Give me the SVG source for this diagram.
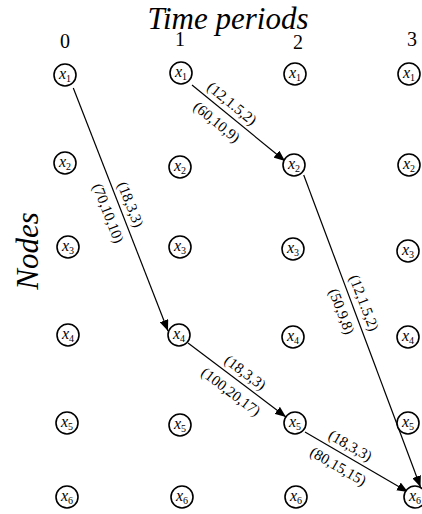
<svg xmlns="http://www.w3.org/2000/svg" width="422" height="514" viewBox="0 0 422 514">
<style>
.t{font-family:"Liberation Serif","Times New Roman",serif;fill:#000}
.h{font-size:31px;font-style:italic}
.c{font-size:20px}
.nl{font-size:16px;font-style:italic;text-anchor:middle}
.sub{font-size:10px;font-style:normal}
.lb{font-size:15px;text-anchor:middle}
circle{fill:#fff;stroke:#000;stroke-width:1.6}
.e{stroke:#000;stroke-width:1.2;fill:none;marker-end:url(#ah)}
</style>
<defs>
<marker id="ah" markerUnits="userSpaceOnUse" markerWidth="11" markerHeight="9" refX="11" refY="4.5" orient="auto" viewBox="0 0 11 9">
<path d="M0,0 L11,4.5 L0,9 z" fill="#000"/>
</marker>
</defs>
<rect width="422" height="514" fill="#fff"/>
<text class="t h" x="228" y="29" text-anchor="middle">Time periods</text>
<text class="t c" x="65" y="48" text-anchor="middle">0</text>
<text class="t c" x="180" y="46" text-anchor="middle">1</text>
<text class="t c" x="298" y="49" text-anchor="middle">2</text>
<text class="t c" x="412" y="46" text-anchor="middle">3</text>
<text class="t h" transform="translate(38,251) rotate(-90)" text-anchor="middle">Nodes</text>
<g id="connectors">
<line class="e" x1="73.3" y1="88" x2="168" y2="331"/>
<line class="e" x1="192" y1="85" x2="285" y2="161"/>
<line class="e" x1="303.7" y1="175" x2="420.5" y2="487"/>
<line class="e" x1="188" y1="343" x2="286" y2="417"/>
<line class="e" x1="305" y1="432" x2="408" y2="492"/>
<text class="t lb" transform="translate(120.3,208.5) rotate(68.7)" y="-6">(18,3,3)</text>
<text class="t lb" transform="translate(120.3,208.5) rotate(68.7)" y="18">(70,10,10)</text>
<text class="t lb" transform="translate(225,112) rotate(39.2)" y="-6">(12,1.5,2)</text>
<text class="t lb" transform="translate(225,112) rotate(39.2)" y="18">(60,10,9)</text>
<text class="t lb" transform="translate(353.8,306.8) rotate(69.2)" y="-6">(12,1.5,2)</text>
<text class="t lb" transform="translate(353.8,306.8) rotate(69.2)" y="18">(50,9,8)</text>
<text class="t lb" transform="translate(238.7,381.3) rotate(37)" y="-6">(18,3,3)</text>
<text class="t lb" transform="translate(238.7,381.3) rotate(37)" y="18">(100,20,17)</text>
<text class="t lb" transform="translate(344.7,455.1) rotate(30.2)" y="-6">(18,3,3)</text>
<text class="t lb" transform="translate(344.7,455.1) rotate(30.2)" y="18">(80,15,15)</text>
</g>
<g id="n0_1"><circle cx="65" cy="75" r="11"/><text class="t nl" x="65" y="79">x<tspan class="sub" dy="3">1</tspan></text></g>
<g id="n0_2"><circle cx="65" cy="163" r="11"/><text class="t nl" x="65" y="167">x<tspan class="sub" dy="3">2</tspan></text></g>
<g id="n0_3"><circle cx="68" cy="247" r="11"/><text class="t nl" x="68" y="251">x<tspan class="sub" dy="3">3</tspan></text></g>
<g id="n0_4"><circle cx="68" cy="335" r="11"/><text class="t nl" x="68" y="339">x<tspan class="sub" dy="3">4</tspan></text></g>
<g id="n0_5"><circle cx="67" cy="423" r="11"/><text class="t nl" x="67" y="427">x<tspan class="sub" dy="3">5</tspan></text></g>
<g id="n0_6"><circle cx="67" cy="497" r="11"/><text class="t nl" x="67" y="501">x<tspan class="sub" dy="3">6</tspan></text></g>
<g id="n1_1"><circle cx="181" cy="73" r="11"/><text class="t nl" x="181" y="77">x<tspan class="sub" dy="3">1</tspan></text></g>
<g id="n1_2"><circle cx="180" cy="167" r="11"/><text class="t nl" x="180" y="171">x<tspan class="sub" dy="3">2</tspan></text></g>
<g id="n1_3"><circle cx="180" cy="247" r="11"/><text class="t nl" x="180" y="251">x<tspan class="sub" dy="3">3</tspan></text></g>
<g id="n1_4"><circle cx="179" cy="335" r="11"/><text class="t nl" x="179" y="339">x<tspan class="sub" dy="3">4</tspan></text></g>
<g id="n1_5"><circle cx="180" cy="425" r="11"/><text class="t nl" x="180" y="429">x<tspan class="sub" dy="3">5</tspan></text></g>
<g id="n1_6"><circle cx="182" cy="497" r="11"/><text class="t nl" x="182" y="501">x<tspan class="sub" dy="3">6</tspan></text></g>
<g id="n2_1"><circle cx="295" cy="74" r="11"/><text class="t nl" x="295" y="78">x<tspan class="sub" dy="3">1</tspan></text></g>
<g id="n2_2"><circle cx="294" cy="165" r="11"/><text class="t nl" x="294" y="169">x<tspan class="sub" dy="3">2</tspan></text></g>
<g id="n2_3"><circle cx="293" cy="249" r="11"/><text class="t nl" x="293" y="253">x<tspan class="sub" dy="3">3</tspan></text></g>
<g id="n2_4"><circle cx="293" cy="337" r="11"/><text class="t nl" x="293" y="341">x<tspan class="sub" dy="3">4</tspan></text></g>
<g id="n2_5"><circle cx="295" cy="423" r="11"/><text class="t nl" x="295" y="427">x<tspan class="sub" dy="3">5</tspan></text></g>
<g id="n2_6"><circle cx="296" cy="497" r="11"/><text class="t nl" x="296" y="501">x<tspan class="sub" dy="3">6</tspan></text></g>
<g id="n3_1"><circle cx="409" cy="74" r="11"/><text class="t nl" x="409" y="78">x<tspan class="sub" dy="3">1</tspan></text></g>
<g id="n3_2"><circle cx="409" cy="165" r="11"/><text class="t nl" x="409" y="169">x<tspan class="sub" dy="3">2</tspan></text></g>
<g id="n3_3"><circle cx="408" cy="251" r="11"/><text class="t nl" x="408" y="255">x<tspan class="sub" dy="3">3</tspan></text></g>
<g id="n3_4"><circle cx="408" cy="337" r="11"/><text class="t nl" x="408" y="341">x<tspan class="sub" dy="3">4</tspan></text></g>
<g id="n3_5"><circle cx="408" cy="423" r="11"/><text class="t nl" x="408" y="427">x<tspan class="sub" dy="3">5</tspan></text></g>
<g id="n3_6"><circle cx="415" cy="497" r="11"/><text class="t nl" x="415" y="501">x<tspan class="sub" dy="3">6</tspan></text></g>
</svg>
